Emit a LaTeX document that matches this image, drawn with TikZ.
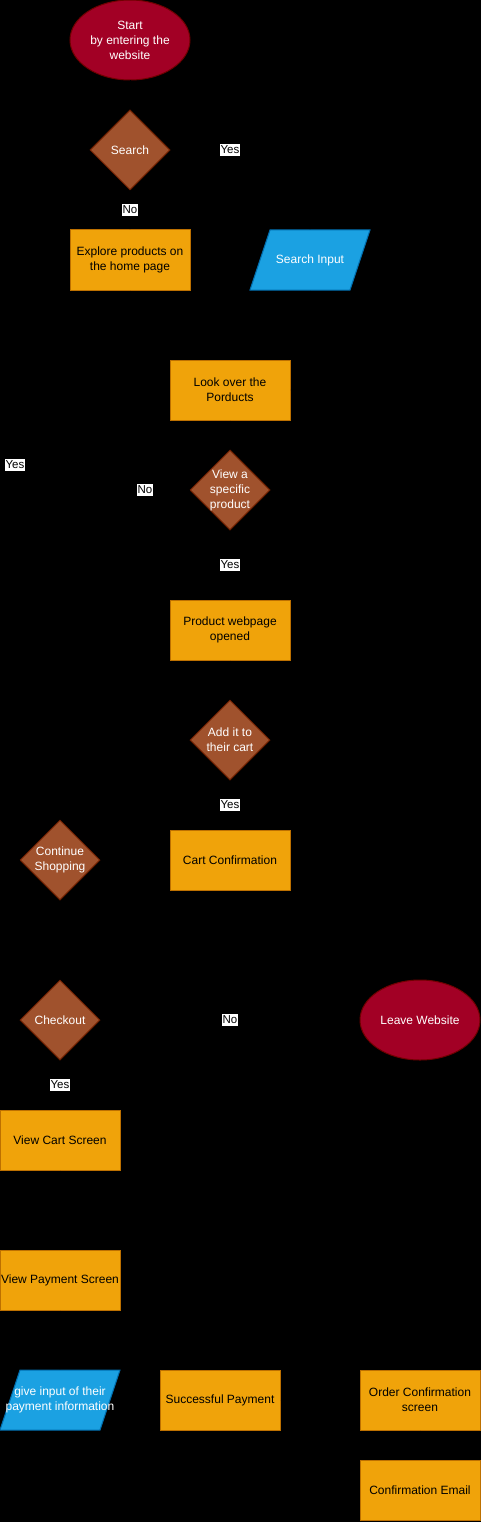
\documentclass[tikz,border=0pt]{standalone}
\usepackage{fontspec}
\setmainfont{Liberation Sans}
\usetikzlibrary{shapes.geometric,arrows.meta}
\definecolor{boxfill}{HTML}{F0A30A}
\definecolor{boxline}{HTML}{BD7000}
\definecolor{decfill}{HTML}{A0522D}
\definecolor{decline}{HTML}{6D1F00}
\definecolor{termfill}{HTML}{A20025}
\definecolor{termline}{HTML}{6F0000}
\definecolor{iofill}{HTML}{1BA1E2}
\definecolor{ioline}{HTML}{006EAF}
\begin{document}
\begin{tikzpicture}[x=1pt,y=-1pt,line width=1pt,
  font=\fontsize{12}{15}\selectfont,
  box/.style={rectangle,draw=boxline,fill=boxfill,minimum width=120pt,minimum height=60pt,inner sep=0pt,align=center,text=black},
  dec/.style={diamond,draw=decline,fill=decfill,minimum width=80pt,minimum height=80pt,inner sep=0pt},
  dectext/.style={align=center,text=white,inner sep=0pt},
  term/.style={ellipse,draw=termline,fill=termfill,minimum width=120pt,minimum height=80pt,inner sep=0pt,align=center,text=white},
  io/.style={rectangle,minimum width=120pt,minimum height=60pt,inner sep=0pt,align=center,text=white},
  iopath/.style={fill=iofill,draw=ioline},
  lab/.style={fill=white,text=black,font=\fontsize{11.5}{13}\selectfont,inner xsep=0.3pt,inner ysep=0pt,minimum height=12.5pt},
  conn/.style={draw=black,-{Stealth[length=6pt]}}]
\useasboundingbox (0,0) rectangle (481,1522);
\fill[black] (0,0) rectangle (481,1522);

% parallelogram bodies
\path[iopath] (270,230) -- (370,230) -- (350,290) -- (250,290) -- cycle;
\path[iopath] (20,1370) -- (120,1370) -- (100,1430) -- (0,1430) -- cycle;

% nodes
\node[term] (start) at (130,40) {Start\\by entering the\\website};
\node[dec,label={[dectext]center:Search}] (search) at (130,150) {};
\node[box] (explore) at (130,260) {Explore products on\\the home page};
\node[io] (sinput) at (310,260) {Search Input};
\node[box] (look) at (230,390) {Look over the\\Porducts};
\node[dec,label={[dectext]center:View a\\specific\\product}] (view) at (230,490) {};
\node[box] (prod) at (230,630) {Product webpage\\opened};
\node[dec,label={[dectext]center:Add it to\\their cart}] (add) at (230,740) {};
\node[box] (cart) at (230,860) {Cart Confirmation};
\node[dec,label={[dectext]center:Continue\\Shopping}] (cont) at (60,860) {};
\node[dec,label={[dectext]center:Checkout}] (chk) at (60,1020) {};
\node[term] (leave) at (420,1020) {Leave Website};
\node[box] (vcart) at (60,1140) {View Cart Screen};
\node[box] (vpay) at (60,1280) {View Payment Screen};
\node[io] (ginput) at (60,1400) {give input of their\\payment information};
\node[box] (succ) at (220,1400) {Successful Payment};
\node[box] (order) at (420,1400) {Order Confirmation\\screen};
\node[box] (email) at (420,1490) {Confirmation Email};

% label anchors
\coordinate (lyes1) at (230,150);
\coordinate (lno1) at (130,210);
\coordinate (lyes4) at (15,465);
\coordinate (lno2) at (145,490);
\coordinate (lyes2) at (230,565);
\coordinate (lyes3) at (230,805);
\coordinate (lno3) at (230,1020);
\coordinate (lyes5) at (60,1085);

% connectors (drawn in black as in the reference)
\draw[conn] (start) -- (search);
\draw[conn] (search) -- (lno1) -- (explore);
\draw[conn] (search) -- (lyes1) -| (sinput);
\draw[conn] (explore) |- (look);
\draw[conn] (sinput) |- (look);
\draw[conn] (look) -- (view);
\draw[conn] (view) -- (lyes2) -- (prod);
\draw[conn] (view) -- (lno2) -| (cont);
\draw[conn] (prod) -- (add);
\draw[conn] (add) -- (lyes3) -- (cart);
\draw[conn] (cart) -- (cont);
\draw[conn] (cont.west) -| (lyes4) |- (look.west);
\draw[conn] (cont) -- (chk);
\draw[conn] (chk) -- (lno3) -- (leave);
\draw[conn] (chk) -- (lyes5) -- (vcart);
\draw[conn] (vcart) -- (vpay);
\draw[conn] (vpay) -- (ginput);
\draw[conn] (ginput) -- (succ);
\draw[conn] (succ) -- (order);
\draw[conn] (order) -- (email);

% edge labels
\node[lab] (tyes1) at (lyes1) {Yes};
\node[lab] (tno1) at (lno1) {No};
\node[lab] (tyes4) at (lyes4) {Yes};
\node[lab] (tno2) at (lno2) {No};
\node[lab] (tyes2) at (lyes2) {Yes};
\node[lab] (tyes3) at (lyes3) {Yes};
\node[lab] (tno3) at (lno3) {No};
\node[lab] (tyes5) at (lyes5) {Yes};
\end{tikzpicture}
\end{document}
